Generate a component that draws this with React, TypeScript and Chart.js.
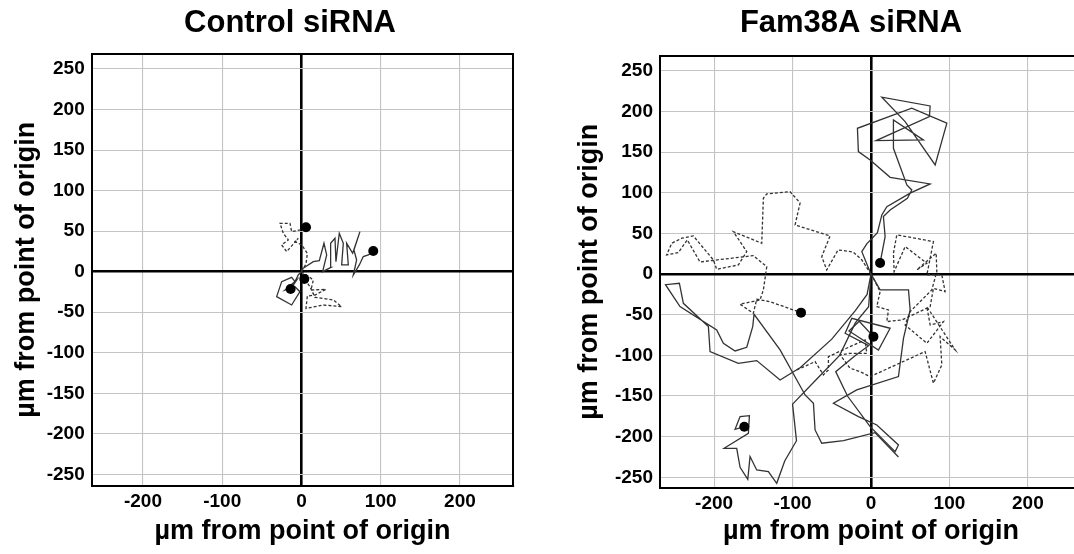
import React, { useEffect, useRef } from "react";
import { Chart, registerables } from "chart.js";
Chart.register(...registerables);

const PAGE_W = 1074;
const PAGE_H = 554;
const FONT = "'Liberation Sans', Arial, Helvetica, sans-serif";
const AXIS_TITLE = "µm from point of origin";
const TITLE_LEFT = "Control siRNA";
const TITLE_RIGHT = "Fam38A siRNA";
const X_STEP = 100;
const Y_STEP = 50;

// ---- Control siRNA trajectories ([x, y] in µm) ----
const ctrlSolidEast = [[0,0],[0.2,2.9],[14.9,12.4],[22.5,13.6],[28.4,35],[31.8,20.6],[26.7,0],[37.2,5.4],[36.8,35],[42.3,41.2],[43.5,12.4],[47.7,47.4],[52.8,35],[50.7,8.3],[59.1,8.3],[57,35],[64.6,22.7],[73.8,49.4],[66.2,26.8],[69.6,14.4],[65.4,-4.1],[73,8.3],[78,18.6],[84.4,20.6],[90.6,25.5]];
const ctrlDashedNorth = [[0,0],[5.7,9.5],[7.4,22.7],[0.2,33],[-8.2,37.1],[-4,41.2],[-18.7,24.7],[-25,33],[-16.6,39.1],[-22.9,47.4],[-27.1,59.7],[-14.5,59.7],[-12.4,49.4],[-1.9,51.5],[5.7,54.8]];
const ctrlSolidSouth = [[0,0],[-4,-4.1],[-8.2,-12.3],[-12.4,-7],[-25,-12.3],[-31.3,-30.8],[-12.4,-41.1],[-1.9,-24.7],[-8.2,-18.5],[-20.8,-22.6],[-6.1,-10.3],[-13.7,-21.4]];
const ctrlDashedSouth = [[0,0],[6.5,-4.1],[14.9,-10.3],[12,-22.6],[30.9,-21.8],[17,-28.8],[7.4,-30],[5.7,-45.3],[27.5,-41.1],[50.7,-43.2],[40.2,-34.9],[17,-31.6],[10.7,-18.5],[3.6,-9]];

// ---- Fam38A siRNA trajectories ----
const famSolidNorth = [[0,0],[-11.7,27.7],[-5.4,37.2],[8.2,51.1],[13.8,72.9],[20.2,83.1],[49.9,99.6],[75.4,111],[24.4,119.2],[-1.1,140.5],[-16.1,150.8],[-17.3,179.5],[52,204.2],[96.7,185.7],[81.8,134.4],[43.5,187.7],[13.8,217.7],[75.4,207],[74.5,193.8],[6.5,164.3],[66.8,165.1],[28.6,189.8],[28.6,154.9],[45.7,109.8],[52,103.6],[46.4,93.4],[24.4,79],[15.8,70.8],[18,46.1],[11.6,13.8]];
const famDashedWest = [[0,0],[-11.7,17.5],[-22.8,27.3],[-42,29.8],[-56.4,5.2],[-62.8,21.5],[-52.2,47],[-96.8,60.5],[-90.4,87.6],[-103.2,101.5],[-132.9,98.7],[-137.2,93.4],[-139.3,38],[-175.5,52.3],[-158.4,27.7],[-169.1,11.3],[-196.7,6],[-201,17.5],[-226.5,47],[-241.3,44.2],[-254.1,38],[-260.5,23.6],[-245.7,26.5],[-234.2,42.1],[-218,15],[-150,22.8],[-132.9,9.2],[-137.2,-19.4],[-141.5,-31.8],[-167,-37],[-150,-48.1],[-145.7,-30.9],[-129,-33.8],[-89.2,-47.4]];
const famSolidLoop = [[0,0],[11.6,-19.4],[47.8,-19.4],[49.9,-44.1],[41.4,-79],[35,-126.1],[-18.2,-142.5],[-47.9,-158.9],[-16,-175.3],[7.4,-185.6],[35,-210.2],[30.8,-218.4],[-1.1,-187.6],[-30,-150],[-45,-120],[-20,-100],[-3,-88],[-33,-72.8],[-24.5,-54.3],[24.4,-66.6],[9.5,-93.3],[-28,-70],[-15,-58],[3.1,-76.9]];
const famSolidWest = [[0,0],[-5,-25],[-20,-45],[-50,-80],[-90,-115],[-115.9,-130.2],[-145.7,-106.4],[-169.1,-109.7],[-205.2,-95.3],[-207.3,-64.6],[-239.2,-35.9],[-244.3,-11.2],[-262,-13],[-243.5,-40],[-196.7,-68.7],[-188.2,-85.1],[-173.3,-94.5],[-158.4,-90],[-150.8,-64.6],[-149.1,-49.4],[-115.9,-93.3],[-84,-148.7],[-73.4,-158.9],[-71.3,-191.7],[-62.8,-208.1],[-35,-205],[5,-195],[35,-225]];
const famSolidSouth = [[0,0],[-3,-40],[-20,-60],[-40,-100],[-70,-130],[-100,-160],[-95,-205],[-110,-230],[-120.2,-257.4],[-130.8,-243],[-145.7,-241],[-154.2,-224.5],[-157.1,-252.4],[-166.9,-237.7],[-171.2,-214.3],[-187.3,-214.3],[-156.3,-195.8],[-155,-174.1],[-166.9,-175.3],[-173.3,-190.9],[-161.5,-187.7]];
const famDashedEast = [[0,0],[3.1,-5.1],[11.6,-21.5],[7.4,-40],[22.3,-44.1],[20.1,-58.4],[39.3,-56.4],[75.4,-40],[79.6,-17.4],[94.5,-21.5],[90.3,-1],[71.2,-1],[79.6,40.1],[32.9,48.3],[28.6,25.7],[29.5,3.1],[43.5,33.9],[71.2,13.4],[58.4,5.2],[83.1,25.7],[83.9,3.1],[77.5,-19.4],[49.9,-46.1],[43.5,-62.5],[71.2,-85.1],[92.4,-58.4],[75.4,-62.5],[71.2,-40],[107.3,-93.3],[88.1,-76.9],[90.3,-111.7],[79.6,-134.3],[69,-95.3],[-1.1,-126.1],[-13.9,-120],[-26.7,-115.8],[-39.4,-99.4],[-26.7,-97.4],[-5.4,-97.4],[-7.5,-81],[-26.7,-89.2],[-54.3,-101.5],[-54.3,-117.9],[-60.7,-124],[-71.3,-107.6],[-94.7,-117.9]];

type Track = { pts: number[][]; dashed: boolean; dot: boolean };

const controlTracks: Track[] = [
  { pts: ctrlSolidEast, dashed: false, dot: true },
  { pts: ctrlDashedNorth, dashed: true, dot: true },
  { pts: ctrlSolidSouth, dashed: false, dot: true },
  { pts: ctrlDashedSouth, dashed: true, dot: true },
];
const famTracks: Track[] = [
  { pts: famDashedWest, dashed: true, dot: true },
  { pts: famDashedEast, dashed: true, dot: false },
  { pts: famSolidWest, dashed: false, dot: false },
  { pts: famSolidSouth, dashed: false, dot: true },
  { pts: famSolidLoop, dashed: false, dot: true },
  { pts: famSolidNorth, dashed: false, dot: true },
];

type PanelProps = {
  tracks: Track[];
  title: string;
  left: number;
  width: number;
  leftAxisW: number;
  rightAxisW: number;
  chartBottom: number;
  titlePadBottom: number;
  yTitlePadTop: number;
  xMin: number; xMax: number; yMin: number; yMax: number;
};

const gridColor = (ctx: any) => (ctx.tick && ctx.tick.value === 0 ? "#000" : "#c4c4c4");
const gridWidth = (ctx: any) => (ctx.tick && ctx.tick.value === 0 ? 2.6 : 1.1);

function Panel(p: PanelProps) {
  const ref = useRef<HTMLCanvasElement>(null);
  useEffect(() => {
    const tickFont = { family: FONT, size: 19, weight: "bold" as const };
    const axisTitleFont = { family: FONT, size: 27, weight: "bold" as const };
    const datasets = p.tracks.map((t) => ({
      data: t.pts.map(([x, y]) => ({ x, y })),
      showLine: true,
      borderColor: "#333333",
      borderWidth: 1.3,
      borderDash: t.dashed ? [3, 2] : [],
      tension: 0,
      fill: false,
      pointRadius: (c: any) => (t.dot && c.dataIndex === t.pts.length - 1 ? 5 : 0),
      pointHoverRadius: 0,
      pointBackgroundColor: "#000",
      pointBorderColor: "#000",
      pointBorderWidth: 0,
    }));
    const chart = new Chart(ref.current!, {
      type: "scatter",
      data: { datasets },
      options: {
        animation: false,
        responsive: false,
        events: [],
        layout: { padding: 0 },
        plugins: {
          legend: { display: false },
          tooltip: { enabled: false },
          title: {
            display: true,
            text: p.title,
            fullSize: true,
            color: "#000",
            font: { family: FONT, size: 31, weight: "bold" },
            padding: { top: 4.4, bottom: p.titlePadBottom },
          },
        },
        scales: {
          x: {
            type: "linear",
            position: "bottom",
            min: p.xMin,
            max: p.xMax,
            afterFit: (s: any) => { s.height = PAGE_H - p.chartBottom; },
            ticks: { stepSize: X_STEP, includeBounds: false, color: "#000", font: tickFont, padding: 5, maxRotation: 0 },
            grid: { drawTicks: false, color: gridColor, lineWidth: gridWidth },
            border: { display: true, color: "#000", width: 2 },
            title: { display: true, text: AXIS_TITLE, color: "#000", font: axisTitleFont, padding: { top: 0, bottom: 6 } },
          },
          y: {
            type: "linear",
            position: "left",
            min: p.yMin,
            max: p.yMax,
            afterFit: (s: any) => { s.width = p.leftAxisW; },
            ticks: { stepSize: Y_STEP, includeBounds: false, color: "#000", font: tickFont, padding: 7 },
            grid: { drawTicks: false, color: gridColor, lineWidth: gridWidth },
            border: { display: true, color: "#000", width: 2 },
            title: { display: true, text: AXIS_TITLE, color: "#000", font: axisTitleFont, padding: { top: p.yTitlePadTop, bottom: 0 } },
          },
          x2: {
            type: "linear",
            position: "top",
            display: true,
            min: p.xMin,
            max: p.xMax,
            afterFit: (s: any) => { s.height = 0; },
            ticks: { display: false },
            grid: { display: false, drawTicks: false },
            border: { display: true, color: "#000", width: 2 },
          },
          y2: {
            type: "linear",
            position: "right",
            display: true,
            min: p.yMin,
            max: p.yMax,
            afterFit: (s: any) => { s.width = p.rightAxisW; },
            ticks: { display: false },
            grid: { display: false, drawTicks: false },
            border: { display: true, color: "#000", width: 2 },
          },
        },
      } as any,
    });
    return () => chart.destroy();
  }, []);
  return (
    <canvas
      ref={ref}
      width={p.width}
      height={PAGE_H}
      style={{ position: "absolute", left: p.left, top: 0, width: p.width, height: PAGE_H }}
    />
  );
}

export default function App() {
  return (
    <div style={{ position: "fixed", left: 0, top: 0, width: PAGE_W, height: PAGE_H, overflow: "hidden", background: "#fff" }}>
      <Panel
        tracks={famTracks}
        title={TITLE_RIGHT}
        left={560}
        width={582}
        leftAxisW={100}
        rightAxisW={60}
        chartBottom={487.7}
        titlePadBottom={14.1}
        yTitlePadTop={13.8}
        xMin={-269} xMax={269} yMin={-262.8} yMax={268.8}
      />
      <Panel
        tracks={controlTracks}
        title={TITLE_LEFT}
        left={0}
        width={580}
        leftAxisW={91.7}
        rightAxisW={66.7}
        chartBottom={485.7}
        titlePadBottom={12.4}
        yTitlePadTop={10.8}
        xMin={-264.7} xMax={267.3} yMin={-264} yMax={268.5}
      />
    </div>
  );
}
